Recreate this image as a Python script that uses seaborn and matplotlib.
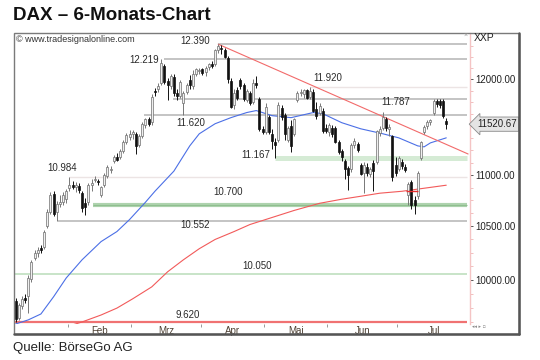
import numpy as np
import pandas as pd
import matplotlib
matplotlib.use('Agg')
import matplotlib.pyplot as plt
import seaborn as sns
from matplotlib.patches import Rectangle
from matplotlib.lines import Line2D
from matplotlib.ticker import FixedLocator, FixedFormatter, NullFormatter

# daily candles, 8 Jan - 22 Jul (trading days)
opens = [9810, 9660, 9760, 9835, 9850, 10010, 10200, 10245, 10290, 10300,
         10500, 10640, 10810, 10640, 10710, 10730, 10760, 10870, 10900, 10880,
         10890, 10820, 10720, 10730, 10900, 10950, 10940, 10800, 10900, 10990,
         11050, 11140, 11180, 11180, 11240, 11330, 11390, 11420, 11420, 11300,
         11400, 11510, 11570, 11540, 11870, 11900, 11960, 12150, 11980, 11930,
         12030, 11850, 11820, 11740, 11860, 11990, 11930, 12060, 12090, 12110,
         12080, 12140, 12170, 12170, 12330, 12350, 12330, 12240, 11980, 11720,
         11880, 11990, 11940, 11780, 11850, 11750, 11960, 11790, 11470, 11440,
         11600, 11420, 11330, 11360, 11690, 11620, 11360, 11500, 11420, 11780,
         11850, 11840, 11880, 11810, 11860, 11680, 11640, 11660, 11480, 11440,
         11480, 11480, 11340, 11240, 11140, 11070, 11060, 11300, 11310, 11100,
         11020, 11080, 11010, 11120, 11130, 11430, 11480, 11580, 11470, 11400,
         11100, 11060, 11130, 11080, 10800, 10930, 10750, 10790, 11170, 11440,
         11500, 11540, 11640, 11770, 11770, 11770, 11550]
highs = [9835, 9790, 9850, 9870, 10040, 10180, 10275, 10300, 10320, 10460,
         10660, 10830, 10840, 10740, 10800, 10830, 10860, 10984, 10940, 10930,
         10920, 10840, 10770, 10920, 10960, 10990, 10960, 10890, 11020, 11100,
         11090, 11200, 11220, 11260, 11360, 11430, 11460, 11460, 11440, 11420,
         11540, 11590, 11600, 11840, 11910, 11960, 12219, 12170, 12010, 12060,
         12060, 11900, 11990, 11870, 11960, 12050, 12100, 12120, 12130, 12130,
         12150, 12180, 12200, 12340, 12390, 12380, 12350, 12260, 12010, 11900,
         11920, 12020, 11960, 11890, 11870, 12000, 12040, 11810, 11500, 11740,
         11620, 11470, 11380, 11760, 11720, 11640, 11500, 11560, 11590, 11870,
         11890, 11900, 11900, 11920, 11890, 11760, 11740, 11690, 11520, 11530,
         11510, 11500, 11360, 11260, 11160, 11090, 11320, 11380, 11330, 11120,
         11130, 11120, 11080, 11150, 11460, 11500, 11650, 11600, 11520, 11410,
         11180, 11190, 11160, 11110, 10930, 10950, 10790, 11040, 11350, 11510,
         11560, 11580, 11787, 11787, 11787, 11790, 11590]
lows = [9623, 9640, 9740, 9790, 9700, 9980, 10180, 10210, 10250, 10280,
        10480, 10620, 10600, 10552, 10680, 10700, 10720, 10840, 10860, 10830,
        10820, 10640, 10610, 10700, 10840, 10930, 10900, 10780, 10880, 10970,
        11020, 11120, 11140, 11160, 11220, 11310, 11360, 11370, 11210, 11280,
        11380, 11480, 11500, 11510, 11820, 11860, 11940, 11950, 11780, 11900,
        11820, 11780, 11800, 11620, 11840, 11900, 11900, 12040, 12060, 12050,
        12040, 12100, 12120, 12150, 12290, 12280, 12230, 11960, 11690, 11680,
        11780, 11900, 11770, 11760, 11720, 11730, 11910, 11450, 11420, 11420,
        11420, 11260, 11167, 11340, 11560, 11360, 11330, 11230, 11400, 11760,
        11820, 11800, 11790, 11790, 11650, 11580, 11620, 11430, 11430, 11400,
        11390, 11320, 11210, 11140, 10960, 10850, 11030, 11270, 11230, 11000,
        10820, 10990, 10980, 10840, 11110, 11400, 11460, 11450, 11400, 10940,
        10990, 11040, 11060, 11030, 10700, 10660, 10620, 10760, 11150, 11420,
        11470, 11510, 11620, 11700, 11690, 11590, 11470]
closes = [9650, 9770, 9830, 9815, 10020, 10160, 10250, 10270, 10275, 10440,
          10640, 10800, 10620, 10710, 10730, 10800, 10840, 10900, 10880, 10900,
          10850, 10670, 10680, 10900, 10920, 10960, 10930, 10880, 11000, 11080,
          11060, 11180, 11150, 11240, 11340, 11410, 11420, 11440, 11290, 11400,
          11520, 11570, 11520, 11810, 11860, 11930, 12180, 11970, 11940, 12040,
          11850, 11820, 11970, 11850, 11940, 11940, 12060, 12110, 12100, 12070,
          12130, 12170, 12150, 12330, 12370, 12340, 12250, 12000, 11700, 11850,
          11800, 11930, 11790, 11870, 11740, 11960, 11940, 11470, 11440, 11700,
          11440, 11350, 11300, 11720, 11600, 11420, 11480, 11290, 11570, 11850,
          11860, 11880, 11800, 11870, 11660, 11610, 11710, 11450, 11450, 11510,
          11420, 11340, 11230, 11180, 11060, 11000, 11300, 11350, 11250, 11010,
          11100, 11020, 11060, 11040, 11450, 11470, 11600, 11480, 11490, 10980,
          11020, 11170, 11090, 11050, 10910, 10700, 10700, 11020, 11330, 11490,
          11540, 11560, 11770, 11730, 11720, 11610, 11520.67]
last_price = 11520.67

months = ['Feb', 'Mrz', 'Apr', 'Mai', 'Jun', 'Jul']
month_start = [17, 37, 59, 79, 99, 121]
month_days = [20, 22, 20, 20, 22, 23]

# moving averages (day index, value)
ma_fast_day = [0, 4, 8, 12, 16, 21, 27, 32, 36, 41, 44, 47, 50, 52, 55, 58, 63, 68, 73, 76,
               81, 87, 94, 97, 103, 109, 116, 121, 127, 129, 131, 136]
ma_fast_val = [9605, 9641, 9693, 9846, 10016, 10183, 10353, 10448, 10563, 10730, 10838, 10938,
               11039, 11141, 11295, 11420, 11525, 11589, 11643, 11664, 11610, 11589, 11643, 11631,
               11536, 11472, 11420, 11378, 11295, 11285, 11326, 11378]
ma_slow_day = [16, 21, 27, 32, 37, 43, 48, 53, 58, 63, 69, 74, 80, 88, 96, 103, 109, 115, 122, 129, 136]
ma_slow_val = [9580, 9623, 9684, 9745, 9828, 9935, 10072, 10183, 10286, 10373, 10448, 10515,
               10573, 10651, 10720, 10760, 10789, 10819, 10838, 10868, 10898]

# downtrend line from the April top
trend_day = [64, 142.9]
trend_val = [12390, 11212]

# horizontal levels and the day they start from
grey_levels = [12390, 12219, 11787, 11620, 10552]
grey_start = [64, 47, 49.6, 40.5, 13.4]
faint_levels = [11920, 10984]
faint_start = [93, 17]
green_levels = [11167, 10700]
green_start = [82, 24.4]
thin_green = 10050
red_level = 9620

W, H = 540, 360
sns.set_theme(style='white')
plt.rcParams['font.family'] = ['Liberation Sans', 'DejaVu Sans']

fig = plt.figure(figsize=(W / 100, H / 100), dpi=100)
fig.patch.set_facecolor('white')


def fx(px):
    return px / W


def fy(py):
    return 1 - py / H


ax = fig.add_axes([fx(14), fy(324), fx(470) - fx(14), fy(33) - fy(324)])
ax.set_facecolor('white')
ax.set_yscale('log')
x_end = 142.6

for v, s in zip(grey_levels, grey_start):
    ax.hlines(v, s, x_end, color='#c4c4c4', lw=1.4, zorder=1)
for v, s in zip(faint_levels, faint_start):
    ax.hlines(v, s, x_end, color='#ece4e4', lw=1.0, zorder=1)
ax.hlines(green_levels[0], green_start[0], x_end, color='#d5ebd5', lw=3.6, zorder=1)
ax.hlines(green_levels[1], green_start[1], x_end, color='#aed3ae', lw=3.0, zorder=1)
ax.hlines(green_levels[1], green_start[1], x_end, color='#8fbf8f', lw=0.8, zorder=1)
ax.hlines(thin_green, -1, x_end, color='#b9dcb9', lw=1.1, zorder=1)
ax.hlines(red_level, -1, x_end, color='#f07272', lw=1.6, zorder=1)

sns.lineplot(x=ma_fast_day, y=ma_fast_val, ax=ax, color='#4b6fe6', lw=0.8, zorder=3, estimator=None)
sns.lineplot(x=ma_slow_day, y=ma_slow_val, ax=ax, color='#f25a5a', lw=0.8, zorder=3, estimator=None)
ax.plot(trend_day, trend_val, color='#f26a6a', lw=0.8, zorder=3)
ax.hlines(10838, 123.4, 127.2, color='#e83030', lw=1.0, zorder=6)

df = pd.DataFrame({'o': opens, 'h': highs, 'l': lows, 'c': closes})
df['day'] = np.arange(len(df))
up = df['c'] >= df['o']
ax.vlines(df.loc[up, 'day'], df.loc[up, 'l'], df.loc[up, 'h'], color='#777777', lw=0.7, zorder=4)
ax.vlines(df.loc[~up, 'day'], df.loc[~up, 'l'], df.loc[~up, 'h'], color='#111111', lw=0.7, zorder=4)
ax.bar(df.loc[up, 'day'], (df['c'] - df['o'])[up], bottom=df.loc[up, 'o'], width=0.62,
       color='#efefef', edgecolor='#6e6e6e', lw=0.5, zorder=5)
ax.bar(df.loc[~up, 'day'], (df['c'] - df['o'])[~up], bottom=df.loc[~up, 'o'], width=0.62,
       color='#111111', edgecolor='#111111', lw=0.5, zorder=5)

ax.set_xlim(-0.5, 143.5)
ax.set_ylim(9605, 12517)

# right price axis
ax.yaxis.tick_right()
ax.yaxis.set_major_locator(FixedLocator([10000, 10500, 11000, 11500, 12000]))
ax.yaxis.set_major_formatter(FixedFormatter(['10000.00', '10500.00', '11000.00', '', '12000.00']))
ax.yaxis.set_minor_locator(FixedLocator(list(range(9625, 12500, 125))))
ax.yaxis.set_minor_formatter(NullFormatter())
ax.tick_params(axis='y', which='major', right=True, left=False, length=2.5, width=0.7,
               color='#555555', labelsize=7, labelcolor='#222222', pad=1.5)
ax.tick_params(axis='y', which='minor', right=True, left=False, length=1.8, width=0.6, color='#f0b4b4')

# months along the bottom
ax.xaxis.set_major_locator(FixedLocator([s - 0.5 for s in month_start]))
ax.xaxis.set_major_formatter(NullFormatter())
ax.xaxis.set_minor_locator(FixedLocator([s + (d - 1) / 2 for s, d in zip(month_start, month_days)]))
ax.xaxis.set_minor_formatter(FixedFormatter(months))
ax.tick_params(axis='x', which='major', bottom=True, length=2.5, width=0.7, color='#999999', direction='out')
ax.tick_params(axis='x', which='minor', bottom=True, length=0, labelsize=7, labelcolor='#4d4033', pad=1.5)

for side in ['left', 'top', 'bottom']:
    ax.spines[side].set_visible(False)
ax.spines['right'].set_color('#f4c4c4')
ax.spines['right'].set_linewidth(1.0)
ax.grid(False)

# price box
ax.annotate(f'{last_price:.2f}', xy=(1.0, last_price), xycoords=('axes fraction', 'data'),
            xytext=(5, 0), textcoords='offset points', ha='left', va='center', fontsize=7,
            color='#222222', zorder=10, annotation_clip=False,
            bbox=dict(boxstyle='larrow,pad=0.22', fc='#e4e4e4', ec='#8a8a8a', lw=0.6))

# level labels (pixel layout)
label_pos = {12390: (195, 41), 12219: (144, 60), 11920: (328, 78), 11787: (396, 102),
             11620: (191, 123), 11167: (256, 155), 10984: (62, 168), 10700: (228, 192),
             10552: (195, 225), 10050: (257, 266), 9620: (188, 315)}
for v, (px, py) in label_pos.items():
    fig.text(fx(px), fy(py), f'{v:,.0f}'.replace(',', '.'), fontsize=7, color='#2a2a2a',
             ha='center', va='center')

# frame around chart
fig.add_artist(Rectangle((fx(14), fy(334)), fx(519) - fx(14), fy(33) - fy(334),
                         transform=fig.transFigure, fill=False, ec='#7a7a7a', lw=1.0))
fig.add_artist(Line2D([fx(519), fx(519)], [fy(334), fy(33)], transform=fig.transFigure,
                      color='#555555', lw=1.8))
fig.add_artist(Line2D([fx(14), fx(519)], [fy(334), fy(334)], transform=fig.transFigure,
                      color='#555555', lw=1.8))

fig.text(fx(16), fy(39), '© www.tradesignalonline.com', fontsize=6.5, color='#333333', va='center')
fig.text(fx(474), fy(38), 'XXP', fontsize=7.5, color='#222222', va='center')
fig.text(fx(466), fy(35.5), '×', fontsize=5, color='#999999', va='center', ha='center')
fig.text(fx(472), fy(327), '◂◂ ▸ ▫', fontsize=3.5, color='#888888', va='center', family='DejaVu Sans')

fig.text(fx(13), fy(16), 'DAX – 6-Monats-Chart', fontsize=13.5, fontweight='bold',
         color='#111111', ha='left', va='center')
fig.text(fx(13), fy(348), 'Quelle: BörseGo AG', fontsize=9.5, color='#222222', ha='left', va='center')

fig.savefig('out.png', dpi=100, facecolor='white')
